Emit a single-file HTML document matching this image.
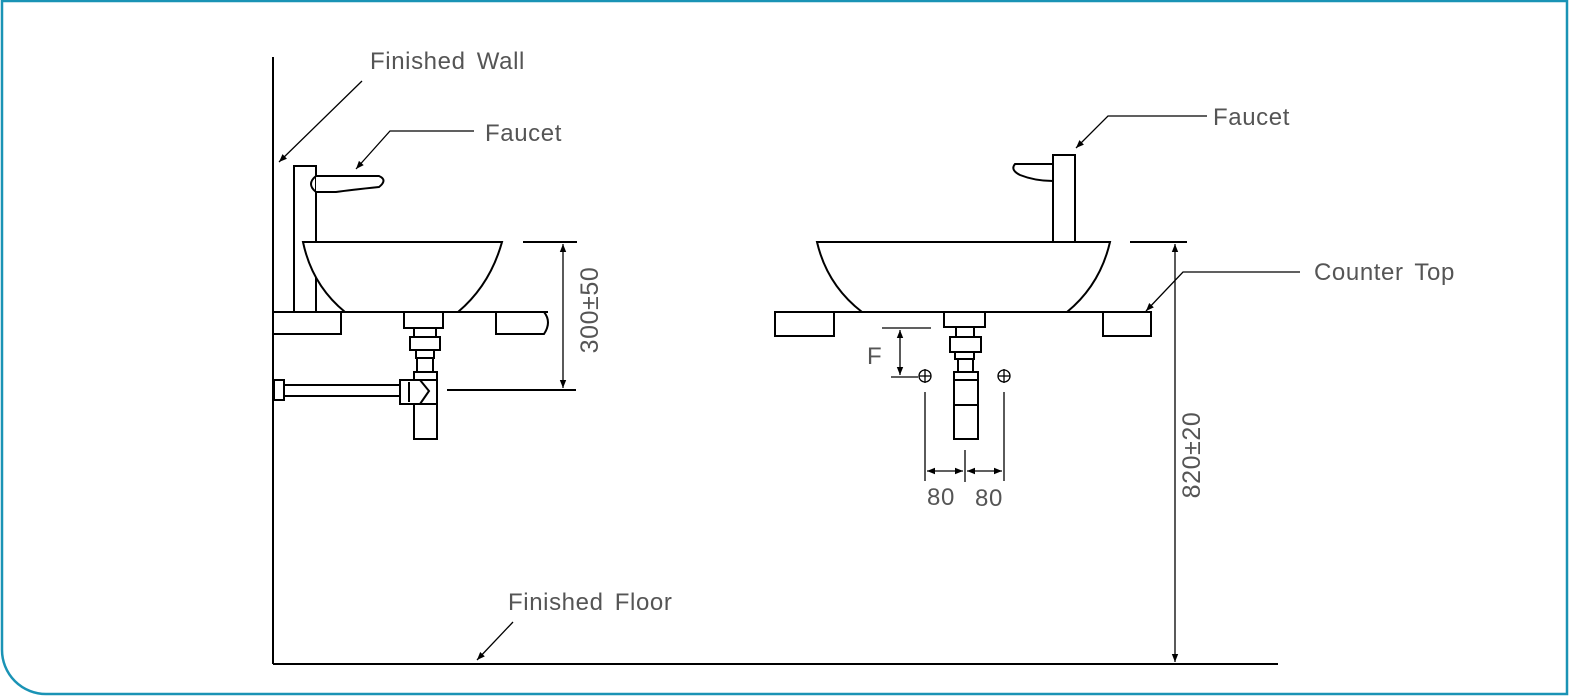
<!DOCTYPE html>
<html><head><meta charset="utf-8"><style>
html,body{margin:0;padding:0;background:#fff;}
svg{display:block;}
text{font-family:"Liberation Sans",sans-serif;fill:#555;font-size:24px;letter-spacing:0.6px;}
</style></head><body>
<svg width="1570" height="697" viewBox="0 0 1570 697" xmlns="http://www.w3.org/2000/svg">
<defs>
<marker id="a" viewBox="0 0 10 10" refX="10" refY="5" markerWidth="11" markerHeight="8" orient="auto-start-reverse" markerUnits="userSpaceOnUse"><path d="M0,1 L10,5 L0,9 z" fill="#000"/></marker>
</defs>
<path d="M2,1 H1567 V694 H46 A44,44 0 0 1 2,650 Z" fill="none" stroke="#1a93b5" stroke-width="2.5"/>
<g stroke="#000" stroke-width="2" fill="none">
<line x1="273" y1="57" x2="273" y2="664"/>
<line x1="273" y1="664" x2="1278" y2="664"/>
</g>
<g stroke="#000" stroke-width="1.3" fill="none">
<line x1="362" y1="81" x2="279" y2="162" marker-end="url(#a)"/>
<polyline points="474,131 390,131 356,169" marker-end="url(#a)"/>
<polyline points="1207,116 1108,116 1076,148" marker-end="url(#a)"/>
<polyline points="1300,272 1183,272 1146,311" marker-end="url(#a)"/>
<line x1="513" y1="622" x2="477" y2="660" marker-end="url(#a)"/>
</g>
<g stroke="#000" stroke-width="2" fill="#fff">
<rect x="294" y="166" width="22" height="146"/>
<path d="M316,176 H379 Q388,180 379,187 Q350,190 336,192 H316" />
<path d="M316,176 Q306,184 316,192" fill="none"/>
<path d="M303,242 H502 Q490,285 458,312 H345 Q312,285 303,242 Z"/>
<line x1="273" y1="312" x2="548" y2="312"/>
<rect x="273" y="312" width="68" height="22"/>
<path d="M496,312 H544 Q552,322 544,334 H496 Z"/>
<rect x="404" y="312" width="39" height="16"/>
<rect x="414" y="328" width="22" height="9"/>
<rect x="410" y="337" width="30" height="13"/>
<rect x="416" y="350" width="18" height="8"/>
<rect x="417" y="358" width="16" height="14"/>
<rect x="274" y="380" width="10" height="20"/>
<rect x="284" y="385" width="116" height="11"/>
<rect x="414" y="372" width="23" height="67"/>
<rect x="400" y="380" width="37" height="24"/>
<line x1="414" y1="372" x2="437" y2="372"/>
<line x1="409" y1="382" x2="409" y2="402" stroke-width="2"/>
<path d="M420,380 L429,391 L420,404" fill="none"/>
<rect x="1053" y="155" width="22" height="87"/>
<path d="M1053,164 H1015 Q1010,170 1020,175 Q1035,181 1053,181 Z"/>
<path d="M817,242 H1110 Q1100,285 1067,312 H862 Q827,285 817,242 Z"/>
<line x1="775" y1="312" x2="1151" y2="312"/>
<rect x="775" y="312" width="59" height="24"/>
<rect x="1103" y="312" width="48" height="24"/>
<rect x="944" y="312" width="41" height="15"/>
<rect x="956" y="327" width="18" height="10"/>
<rect x="950" y="337" width="31" height="15"/>
<rect x="955" y="352" width="19" height="7"/>
<rect x="958" y="359" width="15" height="13"/>
<rect x="954" y="372" width="24" height="67"/>
<line x1="954" y1="380" x2="978" y2="380"/>
<line x1="954" y1="405" x2="978" y2="405"/>
</g>
<g stroke="#000" stroke-width="1.3" fill="none">
<line x1="523" y1="242" x2="577" y2="242" stroke-width="2"/>
<line x1="447" y1="390" x2="576" y2="390" stroke-width="2"/>
<line x1="563" y1="244" x2="563" y2="388" marker-start="url(#a)" marker-end="url(#a)"/>
<line x1="1130" y1="242" x2="1187" y2="242" stroke-width="2"/>
<line x1="1175" y1="244" x2="1175" y2="662" marker-start="url(#a)" marker-end="url(#a)"/>
<line x1="882" y1="328" x2="931" y2="328"/>
<line x1="891" y1="377" x2="918" y2="377"/>
<line x1="900" y1="330" x2="900" y2="375" marker-start="url(#a)" marker-end="url(#a)"/>
<circle cx="925" cy="376" r="6"/><line x1="919" y1="376" x2="931" y2="376"/><line x1="925" y1="369" x2="925" y2="383"/>
<circle cx="1004" cy="376" r="6"/><line x1="998" y1="376" x2="1010" y2="376"/><line x1="1004" y1="369" x2="1004" y2="383"/>
<line x1="925" y1="392" x2="925" y2="481"/>
<line x1="1004" y1="392" x2="1004" y2="481"/>
<line x1="965" y1="450" x2="965" y2="482"/>
<line x1="927" y1="471" x2="963" y2="471" marker-start="url(#a)" marker-end="url(#a)"/>
<line x1="967" y1="471" x2="1002" y2="471" marker-start="url(#a)" marker-end="url(#a)"/>
</g>
<text x="370" y="69" style="word-spacing:4px">Finished Wall</text>
<text x="485" y="141">Faucet</text>
<text x="1213" y="125">Faucet</text>
<text x="1314" y="280" style="word-spacing:4px">Counter Top</text>
<text x="508" y="610" style="word-spacing:4px">Finished Floor</text>
<text x="867" y="364">F</text>
<text x="927" y="505">80</text>
<text x="975" y="506">80</text>
<text transform="translate(598,310) rotate(-90)" text-anchor="middle" style="font-size:25px">300±50</text>
<text transform="translate(1200,455) rotate(-90)" text-anchor="middle" style="font-size:25px">820±20</text>
</svg>
</body></html>
